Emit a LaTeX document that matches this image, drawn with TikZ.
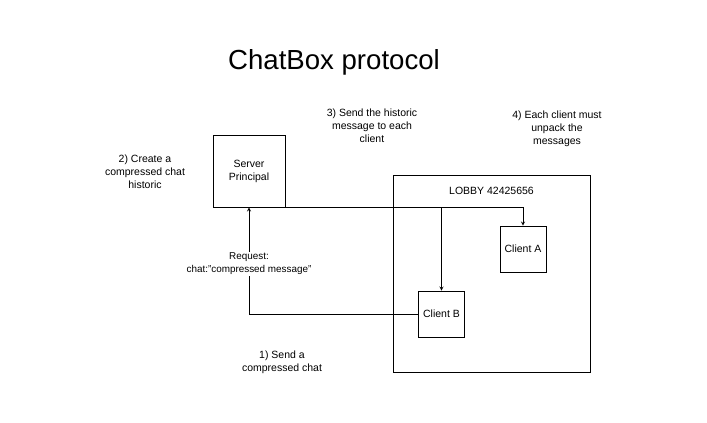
\documentclass[tikz,border=0pt]{standalone}
\usepackage{fontspec}
\setmainfont{Liberation Sans}
\usetikzlibrary{shapes,arrows,positioning,calc}

\begin{document}
\begin{tikzpicture}[
    x=1pt, y=-1pt,
    every node/.style={font=\fontsize{10.5}{13}\selectfont},
    box/.style={rectangle, draw=black, line width=0.8pt, inner sep=0pt, text centered},
    note/.style={align=center, inner sep=1pt},
    arrow/.style={line width=0.8pt,->,>=stealth}
]
\useasboundingbox (0,0) rectangle (707,423);

\node[font=\fontsize{27.6}{33}\selectfont] (title) at (334,62) {ChatBox protocol};

\node[box, minimum width=72pt, minimum height=72pt, align=center] (server) at (249,171) {Server\\Principal};
\node[box, minimum width=197pt, minimum height=197pt] (lobby) at (491.5,273.5) {};
\node[below=9pt of lobby.north] (lobbyname) {LOBBY 42425656};
\node[box, minimum width=46pt, minimum height=46pt] (clienta) at (523,249) {Client A};
\node[box, minimum width=46pt, minimum height=46pt] (clientb) at (441.5,314) {Client B};

% step notes
\node[note] (create) at (145,172) {2) Create a\\compressed chat\\historic};
\node[note] (send) at (372,126) {3) Send the historic\\message to each\\client};
\node[note] (unpack) at (557,129) {4) Each client must\\unpack the\\messages};
\node[note] (compress) at (282,362) {1) Send a\\compressed chat};

\coordinate (split) at (clientb.north |- server.south);

\draw[arrow] (server.south east) -| (clienta.north);
\draw[arrow] (split) -- (clientb.north);
\draw[arrow] (clientb.west) -| node[pos=0.735, fill=white, align=center, inner sep=1pt, font=\fontsize{9.9}{13}\selectfont] (request) {Request:\\chat:"compressed message"} (server.south);
\end{tikzpicture}
\end{document}
